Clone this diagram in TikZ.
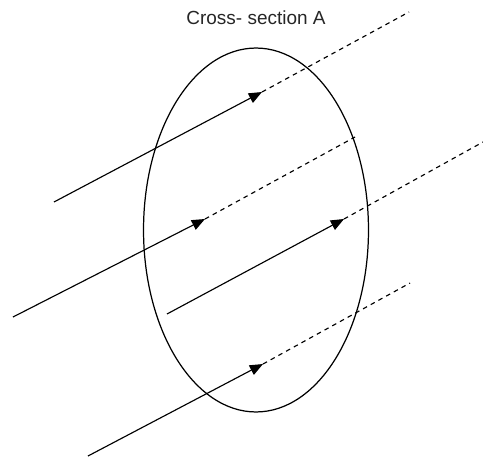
\documentclass[tikz,border=0pt]{standalone}
\usepackage{fontspec}
\setmainfont{Liberation Sans}
\usetikzlibrary{positioning,shapes.geometric,arrows.meta}
\tikzset{
  ray/.style={draw=black,line width=0.65pt,-{Triangle[length=7.5pt,width=6pt]}},
  trail/.style={draw=black,line width=0.65pt,dash pattern=on 2.6pt off 2.4pt},
  sect/.style={ellipse,draw=black,line width=0.7pt,minimum width=4.5cm,minimum height=7.28cm,inner sep=0pt},
}
\tikzset{headline/.style={font=\fontsize{10.8}{13}\selectfont,text=black!85}}

\begin{document}
\begin{tikzpicture}[x=0.02cm,y=-0.02cm]
\useasboundingbox (0,0) rectangle (483,459);
\node[sect] (sec) at (256,230) {};
\node[headline] (lbl) at (256,18) {Cross- section A};
\coordinate (s1) at (54,202);
\coordinate (t1) at (262,92);
\coordinate (e1) at (409,12);
\coordinate (s2) at (13,317);
\coordinate (t2) at (205,219);
\coordinate (e2) at (355,137);
\coordinate (s3) at (167,314);
\coordinate (t3) at (344,219);
\coordinate (e3) at (483,142);
\coordinate (s4) at (88,456);
\coordinate (t4) at (263,364);
\coordinate (e4) at (410,283);
\draw[ray] (s1)--(t1);
\draw[ray] (s2)--(t2);
\draw[ray] (s3)--(t3);
\draw[ray] (s4)--(t4);
\draw[trail] (t1)--(e1);
\draw[trail] (t2)--(e2);
\draw[trail] (t3)--(e3);
\draw[trail] (t4)--(e4);
\end{tikzpicture}
\end{document}
